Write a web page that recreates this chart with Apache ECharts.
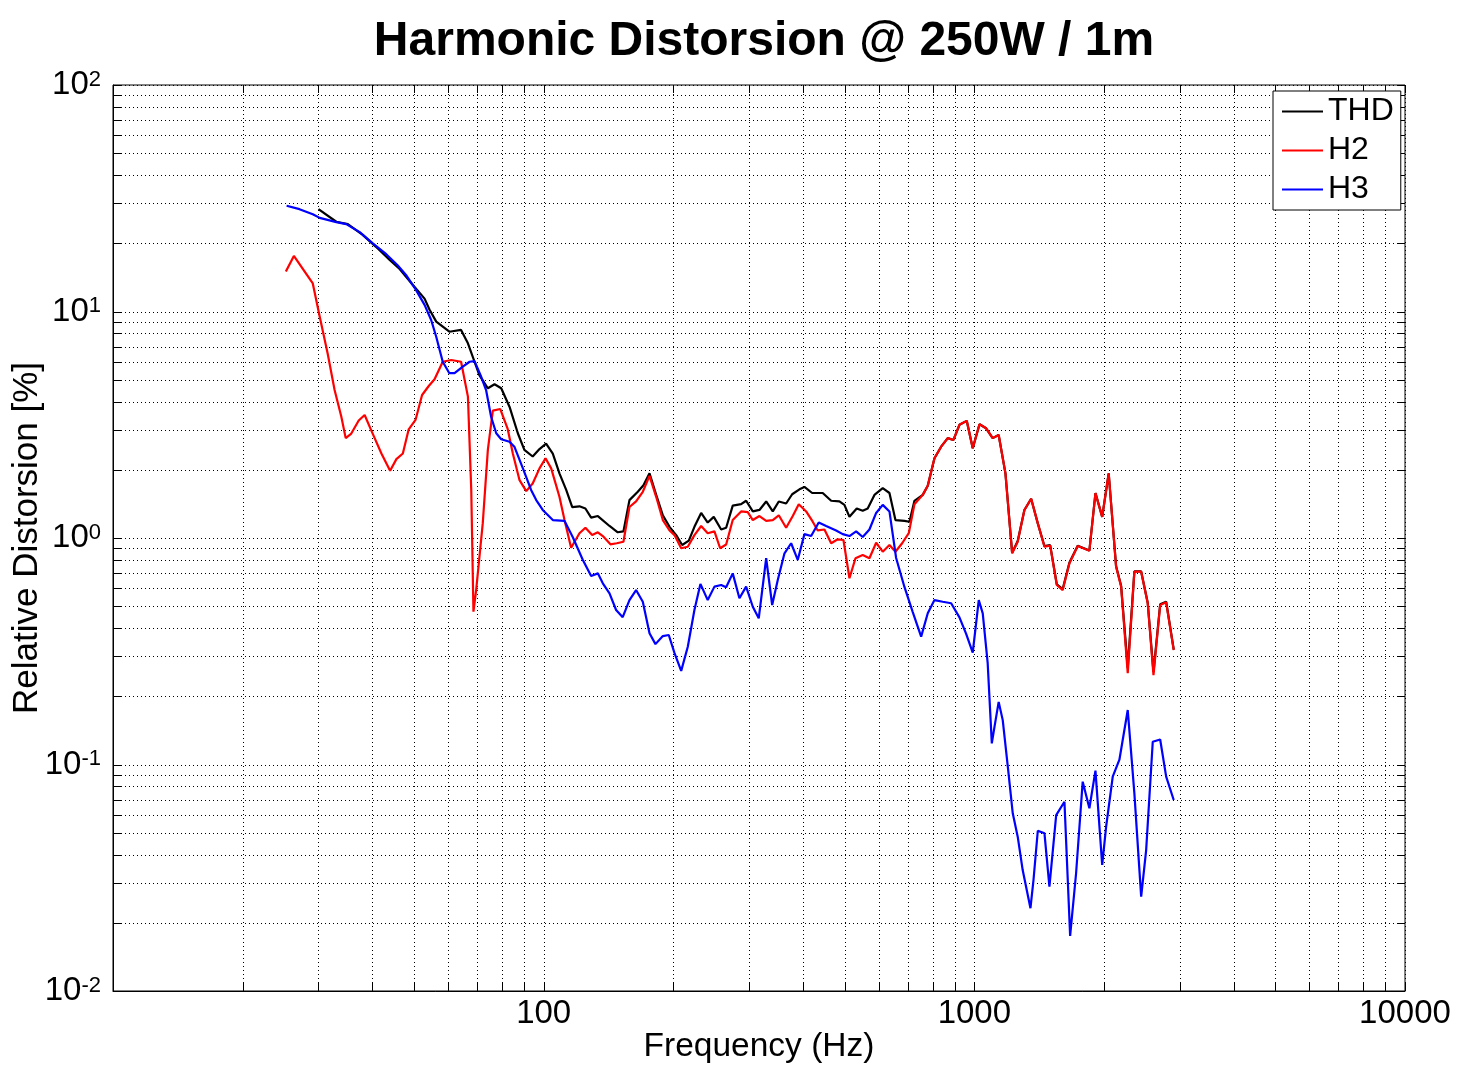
<!DOCTYPE html>
<html>
<head>
<meta charset="utf-8">
<script src="https://cdn.jsdelivr.net/npm/echarts@6/dist/echarts.min.js"></script>
<style>
html,body{margin:0;padding:0;background:#fff;}
#chart{width:1467px;height:1082px;}
</style>
</head>
<body>
<div id="chart"></div>
<script>
// ---- data ----
const thdFreq = [30.0,33.0,35.1,38.0,40.8,43.9,46.3,49.7,52.9,54.3,56.3,60.4,64.3,66.7,69.1,70.9,74.2,76.9,79.7,83.3,87.1,90.2,94.3,97.8,101.3,105.0,108.8,112.8,116.5,121.1,125.0,128.9,133.6,142.2,148.6,153.2,158.2,165.4,170.5,176.1,182.5,189.1,196.0,203.1,209.7,217.3,223.9,232.1,240.4,248.3,258.3,265.3,274.8,287.4,295.2,305.9,317.0,328.6,340.4,351.5,365.6,377.6,392.6,403.2,420.2,444.6,465.1,486.1,499.3,512.9,533.3,550.6,565.5,586.2,612.8,635.2,655.9,688.2,706.9,726.0,759.0,779.6,808.0,837.4,867.5,894.4,923.5,960.2,991.5,1028,1065,1103,1139,1181,1224,1261,1307,1355,1404,1455,1500,1554,1604,1663,1738,1850,1911,1981,2051,2134,2192,2271,2353,2440,2527,2606,2701,2789,2904];
const thdVal = [28.3,24.9,24.3,21.8,19.3,16.9,15.4,13.1,11.4,10.2,9.02,8.14,8.29,7.24,6.00,5.24,4.58,4.77,4.58,3.80,2.90,2.45,2.29,2.47,2.61,2.36,1.93,1.63,1.37,1.38,1.35,1.23,1.25,1.13,1.06,1.07,1.47,1.60,1.71,1.93,1.55,1.26,1.12,1.03,0.931,0.973,1.12,1.29,1.17,1.24,1.09,1.11,1.39,1.41,1.46,1.31,1.33,1.45,1.31,1.45,1.42,1.56,1.64,1.68,1.58,1.58,1.46,1.45,1.40,1.24,1.35,1.32,1.35,1.55,1.66,1.58,1.20,1.19,1.18,1.46,1.55,1.70,2.25,2.53,2.76,2.71,3.16,3.29,2.49,3.18,3.05,2.76,2.85,1.93,0.86,0.97,1.33,1.49,1.16,0.92,0.93,0.625,0.595,0.78,0.925,0.88,1.58,1.24,1.93,0.75,0.615,0.267,0.712,0.712,0.518,0.256,0.51,0.523,0.322];

const h2Freq = [25.2,26.3,29.1,30.2,31.5,32.7,33.9,34.7,35.7,37.2,38.4,39.8,42.0,44.0,45.5,47.1,48.6,50.4,52.2,54.1,55.8,58.3,61.0,64.3,66.7,67.9,68.7,69.7,72.2,74.2,76.2,79.3,82.5,84.8,87.9,91.1,94.3,97.8,101.0,104.1,108.8,111.8,115.8,121.1,125.0,129.6,133.6,137.2,142.9,147.8,153.2,158.2,163.9,169.9,176.1,182.5,189.1,196.0,201.3,208.6,216.1,223.9,232.1,240.4,249.2,256.9,265.3,274.8,287.4,297.8,305.9,317.0,328.6,340.4,351.5,365.6,378.8,391.1,406.9,421.5,432.9,448.7,465.1,481.8,496.7,512.9,529.7,550.6,570.7,591.6,612.8,635.2,655.9,679.8,704.3,726.0,759.0,779.6,808.0,837.4,867.5,894.4,923.5,960.2,991.5,1028,1065,1103,1139,1181,1224,1261,1307,1355,1404,1455,1500,1554,1604,1663,1738,1850,1911,1981,2051,2134,2192,2271,2353,2440,2527,2606,2701,2789,2904];
const h2Val = [15.0,17.6,13.3,9.48,6.54,4.50,3.43,2.76,2.88,3.30,3.49,2.98,2.36,1.98,2.23,2.36,3.02,3.32,4.28,4.69,5.02,6.00,6.11,6.00,4.21,1.63,0.473,0.589,1.16,2.45,3.65,3.71,3.03,2.36,1.80,1.61,1.74,2.03,2.25,2.03,1.52,1.20,0.906,1.05,1.11,1.03,1.06,1.02,0.938,0.948,0.963,1.37,1.45,1.60,1.88,1.52,1.20,1.08,1.03,0.901,0.915,1.03,1.13,1.05,1.07,0.901,0.936,1.20,1.31,1.30,1.20,1.25,1.19,1.20,1.26,1.11,1.25,1.41,1.31,1.18,1.08,1.09,0.948,0.987,0.980,0.664,0.814,0.841,0.814,0.953,0.870,0.931,0.870,0.948,1.05,1.41,1.55,1.70,2.25,2.53,2.76,2.71,3.16,3.29,2.49,3.18,3.05,2.76,2.85,1.93,0.856,0.963,1.33,1.49,1.16,0.915,0.925,0.620,0.589,0.773,0.922,0.879,1.58,1.24,1.93,0.747,0.610,0.253,0.710,0.710,0.515,0.248,0.506,0.520,0.320];

const h3Freq = [25.3,27.1,29.1,30.2,33.0,34.8,37.4,40.1,43.1,45.8,47.9,50.6,52.9,54.8,56.3,58.3,60.4,62.1,64.9,67.3,69.1,71.6,73.5,75.5,77.6,79.7,83.3,85.5,89.4,93.5,96.1,99.5,105.0,111.8,116.8,123.3,128.9,133.6,137.2,142.2,147.3,152.6,158.2,163.9,169.9,176.1,181.8,189.1,195.2,201.3,208.6,216.1,223.9,231.2,240.4,249.2,258.3,265.3,274.8,284.8,295.2,305.9,315.8,328.6,339.3,349.6,362.4,375.5,389.0,403.2,417.9,435.2,452.8,477.6,494.8,512.9,531.6,550.6,570.7,591.6,612.8,635.2,658.3,688.2,719.5,752.5,779.6,808.0,844.6,883.4,923.5,957.2,991.5,1024,1046,1074,1098,1114,1139,1164,1196,1228,1261,1295,1350,1372,1404,1455,1494,1549,1619,1669,1723,1785,1850,1911,1981,2023,2096,2172,2271,2353,2440,2506,2596,2701,2789,2904];
const h3Val = [29.3,28.3,26.9,25.9,24.8,24.3,22.4,20.0,17.9,16.0,14.5,12.4,10.7,9.17,7.74,6.00,5.34,5.34,5.71,6.00,6.04,5.15,4.50,3.43,2.90,2.73,2.66,2.53,2.04,1.63,1.47,1.33,1.20,1.19,1.01,0.80,0.68,0.698,0.631,0.570,0.481,0.447,0.532,0.589,0.523,0.380,0.340,0.369,0.373,0.310,0.259,0.331,0.481,0.627,0.532,0.610,0.620,0.606,0.698,0.542,0.610,0.497,0.442,0.814,0.506,0.653,0.856,0.948,0.80,1.04,1.02,1.17,1.13,1.08,1.04,1.02,1.07,1.01,1.09,1.29,1.40,1.31,0.816,0.608,0.471,0.367,0.465,0.532,0.523,0.515,0.446,0.377,0.312,0.532,0.465,0.280,0.124,0.147,0.189,0.157,0.0978,0.0609,0.0480,0.0342,0.0232,0.0309,0.0510,0.0497,0.0289,0.0598,0.0685,0.0175,0.0331,0.0840,0.0641,0.0939,0.0360,0.0531,0.0884,0.105,0.174,0.0746,0.0261,0.0419,0.126,0.129,0.0884,0.0697];

const xTicks = [10,20,30,40,50,60,70,80,90,100,200,300,400,500,600,700,800,900,1000,2000,3000,4000,5000,6000,7000,8000,9000,10000];
const yTicks = [0.01,0.02,0.03,0.04,0.05,0.06,0.07,0.08,0.09,0.1,0.2,0.3,0.4,0.5,0.6,0.7,0.8,0.9,1,2,3,4,5,6,7,8,9,10,20,30,40,50,60,70,80,90,100];
const seriesNames = ['THD','H2','H3'];
const seriesColors = ['#000000','#ff0000','#0000ff'];

// ---- chart ----
const X_MIN = 10, X_MAX = 10000, Y_MIN = 0.01, Y_MAX = 100;
const zip = (f, v) => f.map((x, i) => [x, v[i]]);
const crisp = v => Math.round(v) + 0.5;
const TICK = 8;

function xGridItem(params, api) {
  const v = api.value(0);
  const a = api.coord([v, Y_MIN]);
  const b = api.coord([v, Y_MAX]);
  const x = crisp(a[0]);
  return { type: 'group', children: [
    { type: 'line', shape: {x1: x, y1: a[1], x2: x, y2: b[1]}, style: {stroke: '#000', lineWidth: 1, lineDash: [1, 3]} },
    { type: 'line', shape: {x1: x, y1: a[1], x2: x, y2: a[1] - TICK}, style: {stroke: '#000', lineWidth: 1} },
    { type: 'line', shape: {x1: x, y1: b[1], x2: x, y2: b[1] + TICK}, style: {stroke: '#000', lineWidth: 1} }
  ]};
}
function yGridItem(params, api) {
  const v = api.value(1);
  const a = api.coord([X_MIN, v]);
  const b = api.coord([X_MAX, v]);
  const y = crisp(a[1]);
  return { type: 'group', children: [
    { type: 'line', shape: {x1: a[0], y1: y, x2: b[0], y2: y}, style: {stroke: '#000', lineWidth: 1, lineDash: [1, 3]} },
    { type: 'line', shape: {x1: a[0], y1: y, x2: a[0] + TICK, y2: y}, style: {stroke: '#000', lineWidth: 1} },
    { type: 'line', shape: {x1: b[0], y1: y, x2: b[0] - TICK, y2: y}, style: {stroke: '#000', lineWidth: 1} }
  ]};
}

const FONT = 'Liberation Sans, Arial, Helvetica, sans-serif';
const chart = echarts.init(document.getElementById('chart'), null, {renderer: 'canvas'});
const option = {
  animation: false,
  backgroundColor: '#ffffff',
  textStyle: {fontFamily: FONT, color: '#000'},
  title: {
    text: 'Harmonic Distorsion @ 250W / 1m',
    left: 759, top: 13, textAlign: 'center',
    textStyle: {fontFamily: FONT, fontSize: 48, fontWeight: 'bold', color: '#000'}
  },
  grid: {left: 113, top: 85, width: 1292, height: 906, show: true, borderColor: '#000', borderWidth: 1,
         backgroundColor: '#fff', containLabel: false, outerBoundsMode: 'none'},
  legend: {
    data: seriesNames,
    orient: 'vertical',
    left: 1273, top: 91,
    padding: [4, 7, 4, 8],
    itemGap: 6,
    itemWidth: 41, itemHeight: 14,
    itemTextGap: 3,
    backgroundColor: '#fff',
    borderColor: '#000', borderWidth: 1, borderRadius: 0,
    itemStyle: {opacity: 0},
    textStyle: {fontFamily: FONT, fontSize: 32, color: '#000', lineHeight: 33}
  },
  xAxis: {
    type: 'log', logBase: 10, min: X_MIN, max: X_MAX,
    name: 'Frequency (Hz)', nameLocation: 'middle', nameGap: 39, nameMoveOverlap: false,
    nameTextStyle: {fontFamily: FONT, fontSize: 33.5, color: '#000'},
    axisLine: {show: true, lineStyle: {color: '#000', width: 1}},
    axisTick: {show: false},
    splitLine: {show: false},
    minorTick: {show: false},
    axisLabel: {
      show: true, margin: 6, color: '#000', fontFamily: FONT, fontSize: 33,
      showMinLabel: true, showMaxLabel: true,
      formatter: v => { const r = Math.round(v); return r === 10 ? '' : String(r); }
    }
  },
  yAxis: {
    type: 'log', logBase: 10, min: Y_MIN, max: Y_MAX,
    name: 'Relative Distorsion [%]', nameLocation: 'middle', nameGap: 68, nameMoveOverlap: false,
    nameTextStyle: {fontFamily: FONT, fontSize: 35, color: '#000'},
    axisLine: {show: true, lineStyle: {color: '#000', width: 1}},
    axisTick: {show: false},
    splitLine: {show: false},
    axisLabel: {
      show: true, margin: 12, color: '#000',
      showMinLabel: true, showMaxLabel: true,
      formatter: v => '{b|10}{s|' + Math.round(Math.log10(v)) + '}',
      rich: {
        b: {fontFamily: FONT, fontSize: 33, lineHeight: 33, color: '#000'},
        s: {fontFamily: FONT, fontSize: 22, lineHeight: 12, verticalAlign: 'top', color: '#000'}
      }
    }
  },
  series: [
    {type: 'custom', name: 'xgrid', silent: true, z: 1, renderItem: xGridItem, data: xTicks.map(v => [v, 1]), clip: false},
    {type: 'custom', name: 'ygrid', silent: true, z: 1, renderItem: yGridItem, data: yTicks.map(v => [100, v]), clip: false},
    {type: 'line', name: seriesNames[0], data: zip(thdFreq, thdVal), symbol: 'none', z: 3,
     lineStyle: {color: seriesColors[0], width: 2.2}, itemStyle: {color: seriesColors[0]}},
    {type: 'line', name: seriesNames[1], data: zip(h2Freq, h2Val), symbol: 'none', z: 4,
     lineStyle: {color: seriesColors[1], width: 2.2}, itemStyle: {color: seriesColors[1]}},
    {type: 'line', name: seriesNames[2], data: zip(h3Freq, h3Val), symbol: 'none', z: 5,
     lineStyle: {color: seriesColors[2], width: 2.2}, itemStyle: {color: seriesColors[2]}}
  ]
};
chart.setOption(option);
</script>
</body>
</html>
